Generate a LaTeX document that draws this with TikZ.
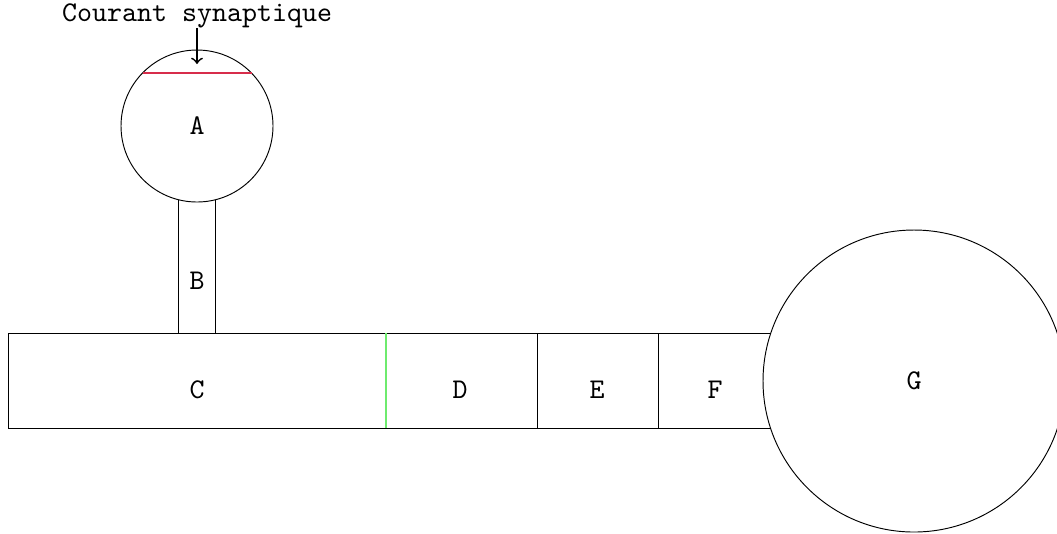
\documentclass[tikz,border=0pt]{standalone}
\definecolor{lgreen}{RGB}{110,235,110}
\definecolor{lred}{RGB}{215,45,75}
\begin{document}
\begin{tikzpicture}[x=0.35pt,y=-0.35pt, font=\ttfamily, line width=0.33pt,
  ball/.style={draw, circle, fill=white, inner sep=0pt},
  lbl/.style={inner sep=0pt}]
\useasboundingbox (0,0) rectangle (1057,533);
\clip (0,0) rectangle (1057,533);
% compartments
\draw (178,126) rectangle (215,333);   % B
\draw (8,333) rectangle (386,428);     % C
\draw (386,333) rectangle (537,428);   % D
\draw (537,333) rectangle (658,428);   % E
\draw (658,333) rectangle (820,428);   % F
\node[ball, minimum size=53.2pt] (A) at (197,126) {};
\node[ball, minimum size=105.7pt] (G) at (914,381) {};
\draw[lred, line width=0.38pt] (143,73) -- (252,73);
\draw[lgreen, line width=0.45pt] (386,333) -- (386,428);
% labels
\node[lbl] (lA) at (197,126) {A};
\node[lbl] (lB) at (197,281) {B};
\node[lbl] (lC) at (197,390) {C};
\node[lbl] (lD) at (460,390) {D};
\node[lbl] (lE) at (597,390) {E};
\node[lbl] (lF) at (715,390) {F};
\node[lbl] (lG) at (914,381) {G};
\node[lbl, anchor=south] (cs) at (197,28) {Courant synaptique};
\coordinate (tip) at (197,64);
\draw[->, line width=0.6pt] (cs.south) -- (tip);
\end{tikzpicture}
\end{document}
